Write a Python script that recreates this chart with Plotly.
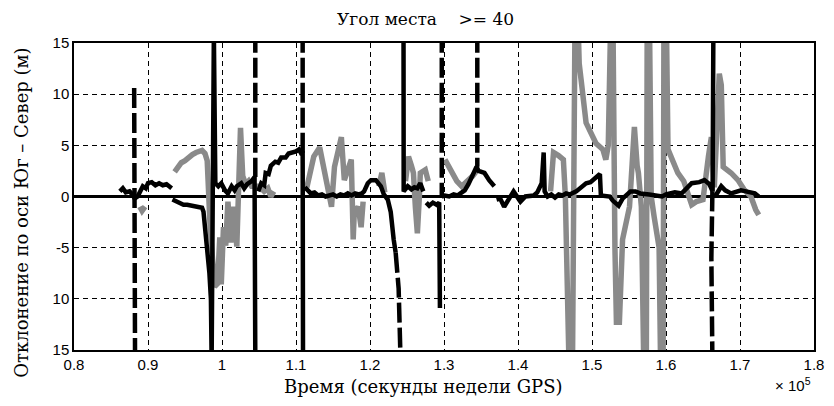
import plotly.graph_objects as go

# ---- data (time in units of 1e5 s, deviation in metres) ----
grey_x = [0.889, 0.892, 0.896, None,
          0.936, 0.940, 0.945, 0.950, 0.955, 0.960, 0.965, 0.970, 0.973, 0.977, 0.980, 0.984, 0.990, 0.994, 0.997,
          0.999, 1.002, 1.005, 1.008, 1.012, 1.016, 1.020, 1.022, 1.025, 1.028, 1.032, 1.036, 1.040, 1.050, 1.057,
          1.062, 1.066, 1.070, None,
          1.1147, 1.124, 1.132, 1.1387, 1.148, 1.152, 1.1613, 1.1653, 1.1707, 1.1747, 1.1773, 1.1787, 1.184, 1.188,
          1.1907, None,
          1.212, 1.216, 1.220, None,
          1.248, 1.252, 1.256, 1.2587, 1.2613, 1.264, 1.2667, 1.268, 1.2747, 1.2787, None,
          1.3013, 1.3093, 1.3173, 1.324, 1.332, 1.3387, 1.3453, None,
          1.444, 1.448, 1.4547, 1.4613, 1.464, 1.4667, 1.470, 1.4733, 1.4773, 1.480, 1.4827, 1.4853, 1.492, 1.5053,
          1.5147, 1.5187, 1.522, 1.526, 1.528, 1.531, 1.533, 1.537, 1.5413, 1.5507, 1.554, 1.5573, 1.561, 1.5627,
          1.5667, 1.5707, 1.5733, 1.5747, 1.5773, 1.580, 1.584, 1.5907, 1.5933, 1.596, 1.5973, 1.600, 1.6027, 1.6093,
          1.616, 1.624, 1.630, 1.6347, 1.641, 1.650, 1.6573, 1.6613, 1.6653, 1.6693, 1.672, 1.6747, 1.6773, 1.688,
          1.6973, 1.7053, 1.7147, 1.7213, 1.7253]
grey_y = [-1.0, -1.4, -1.0, None,
          2.4, 2.9, 3.3, 3.5, 3.9, 4.1, 4.3, 4.4, 4.5, 4.2, 3.5, -3.0, -8.8, -8.5, -4.0,
          -8.6, -3.0, -4.8, -0.5, -4.5, -1.0, -4.9, 1.0, 6.7, 2.0, 1.2, 1.5, 1.0, 1.0, 0.5,
          0.8, 0.0, 0.5, None,
          0.9, 3.9, 4.8, 2.3, -1.0, 2.9, 5.8, 1.6, 3.0, 3.6, -4.2, -1.6, -1.0, -3.0,
          -0.5, None,
          1.0, 2.3, 0.4, None,
          1.5, 3.9, 3.0, 2.3, -1.0, -3.6, 0.0, 2.3, 2.6, 1.5, None,
          3.6, 2.5, 1.5, 1.0, 1.5, 2.0, 2.6, None,
          0.5, 4.3, 4.0, 3.6, 0.0, -8.0, -20, -20, 20, 20, 13.0, 11.4, 7.2, 5.2,
          4.6, 3.6, 5.0, 20, 20, -5.0, -12.3, -12.3, -4.2, -1.0, 3.0, 6.8, 3.0, 2.3,
          -1.0, -20, -20, 20, 20, 0.0, -2.0, -5.0, -20, -20, 20, 20, 4.6, 3.5,
          2.3, 1.5, 0.0, -0.8, -0.5, -0.3, 3.9, 5.8, 0.9, 8.0, 12.0, 10.9, 2.9, 2.3,
          1.6, 0.7, 0.0, -1.3, -1.8]

black_x = [0.862, 0.866, 0.870, 0.875, 0.879, 0.882, 0.886, 0.889, 0.893, 0.897, 0.900, 0.905, 0.910, 0.915, 0.920,
           0.925, 0.930, 0.932, None,
           0.933, 0.938, 0.943, 0.948, 0.953, 0.958, 0.963, 0.968, 0.973, 0.975, 0.977, 0.979, 0.981, 0.983, 0.985,
           0.986, 0.989, 0.991, 0.995, 0.999, 1.004, 1.008, 1.013, 1.017, 1.020, 1.026, 1.030, 1.034, 1.040, 1.044,
           1.045, None,
           1.049, 1.053, 1.057, 1.059, 1.063, 1.066, 1.072, 1.076, 1.080, 1.086, 1.090, 1.095, 1.100, 1.104, 1.107,
           1.109, 1.1095, None,
           1.112, 1.116, 1.120, 1.125, 1.130, 1.135, 1.140, 1.145, 1.150, 1.155, 1.160, 1.165, 1.170, 1.175, 1.180,
           1.185, 1.189, 1.192, 1.197, 1.2013, 1.208, 1.2147, 1.2187, 1.224, 1.228, 1.232, 1.2347, None,
           1.2453, 1.2455, 1.251, 1.256, 1.260, 1.264, 1.268, 1.272, None,
           1.276, 1.280, 1.285, 1.290, 1.2935, 1.2945, None,
           1.297, 1.301, 1.307, 1.313, 1.318, 1.322, 1.328, 1.333, 1.338, 1.344, 1.3467, 1.3547, 1.361, 1.368, None,
           1.371, 1.376, 1.3813, 1.388, 1.394, 1.4033, 1.410, 1.4213, 1.426, 1.432, 1.4347, 1.436, 1.440, 1.445,
           1.450, 1.455, 1.460, 1.465, 1.470, 1.4787, 1.485, 1.492, 1.498, 1.5053, 1.5107, 1.512, 1.518, 1.524,
           1.528, 1.532, 1.536, 1.5413, 1.546, 1.552, 1.5587, 1.565, 1.5773, 1.585, 1.5947, 1.600, 1.606, 1.612,
           1.6213, 1.628, 1.6347, 1.645, 1.652, 1.6587, 1.6613, 1.663, 1.664, None,
           1.665, 1.668, 1.6747, 1.680, 1.688, 1.695, 1.7013, 1.708, 1.7147, 1.720, 1.7253]
black_y = [0.5, 0.8, 0.4, 0.5, 0.2, -0.2, 0.0, 0.4, 1.0, 0.8, 1.3, 1.4, 1.1, 1.3, 1.1,
           1.2, 1.0, 0.8, None,
           -0.3, -0.5, -0.6, -0.8, -0.8, -0.9, -1.0, -1.0, -1.1, -1.5, -3.0, -4.5, -5.5, -7.5, -10.0,
           -16, 16, 1.3, 1.0, 1.3, 0.6, 0.3, 1.0, 0.6, 1.0, 1.3, 0.8, 1.2, 1.5, 1.9,
           -16, None,
           0.5, 1.3, 1.1, 2.3, 2.2, 3.0, 3.4, 3.3, 3.8, 3.8, 4.2, 4.3, 4.4, 4.6, 4.2,
           4.2, -16, None,
           0.9, 0.6, 0.3, 0.4, 0.1, 0.2, 0.0, 0.1, 0.2, 0.0, 0.2, 0.1, 0.3, 0.1, 0.3,
           0.2, 0.3, 0.5, 1.3, 1.6, 1.6, 1.0, 0.2, -0.3, -1.5, -4.2, -5.5, None,
           16, 0.5, 1.0, 0.7, 0.9, 0.8, 1.3, 0.5, None,
           -0.6, -0.9, -0.6, -0.8, -0.6, -10.9, None,
           0.0, 0.1, 0.0, 0.2, 0.1, 0.3, 0.6, 1.2, 1.9, 2.9, 2.5, 2.3, 1.6, 1.0, None,
           -0.3, -0.2, -1.0, -0.2, 0.5, -0.5, 0.0, 0.1, 0.4, 1.3, 4.3, 0.5, 0.0, 0.2,
           -0.1, 0.2, 0.1, 0.3, 0.2, 0.5, 0.9, 1.3, 1.4, 1.8, 2.2, 0.1, 0.1, 0.0,
           -0.4, -0.6, -0.9, -0.2, 0.1, 0.5, 0.5, 0.3, 0.2, 0.1, 0.0, 0.2, 0.3, 0.4,
           0.3, 0.8, 1.3, 1.4, 1.6, 1.2, 0.9, 0.5, 16, None,
           0.0, 0.2, 1.0, 0.6, 0.3, 0.5, 0.6, 0.5, 0.4, 0.3, 0.0]

dashed_x = [0.8813, 0.8825, None, 1.045, 1.045, None, 1.109, 1.109, None,
            1.2347, 1.2387, 1.2413, None, 1.297, 1.297, None, 1.345, 1.345, None,
            1.6627, 1.6613, 1.6627]
dashed_y = [10.6, -16, None, 16, 1.9, None, 16, 4.2, None,
            -5.5, -9.0, -16, None, 16, 0.0, None, 16, 2.9, None,
            0.5, -6.0, -16]

x_ticks = [0.8, 0.9, 1.0, 1.1, 1.2, 1.3, 1.4, 1.5, 1.6, 1.7, 1.8]
x_ticktext = ["0.8", "0.9", "1", "1.1", "1.2", "1.3", "1.4", "1.5", "1.6", "1.7", "1.8"]
y_ticks = [15, 10, 5, 0, -5, -10, -15]
y_ticktext = ["15", "10", "5", "0", "-5", "10", "15"]

title_text = "Угол места\u00a0\u00a0\u00a0\u00a0>= 40"
x_title = "Время (секунды недели GPS)"
y_title = "Отклонение по оси Юг – Север (м)"

fig = go.Figure()
fig.add_trace(go.Scatter(x=grey_x, y=grey_y, mode="lines",
                         line=dict(color="#8a8a8a", width=5.5), connectgaps=False, showlegend=False))
fig.add_trace(go.Scatter(x=black_x, y=black_y, mode="lines",
                         line=dict(color="black", width=4.5), connectgaps=False, showlegend=False))
fig.add_trace(go.Scatter(x=dashed_x, y=dashed_y, mode="lines",
                         line=dict(color="black", width=4.5, dash="20px,5px"), connectgaps=False,
                         showlegend=False))

serif = "DejaVu Serif"
sans = "Liberation Sans"

fig.update_layout(
    width=834, height=406,
    margin=dict(l=74, r=10, t=43, b=56),
    paper_bgcolor="white", plot_bgcolor="white",
    showlegend=False,
    xaxis=dict(range=[0.8, 1.8], tickvals=x_ticks, ticktext=x_ticktext,
               showgrid=True, gridcolor="black", gridwidth=1, griddash="5px,4px",
               showline=True, linecolor="black", linewidth=1.5, mirror=True,
               zeroline=False, ticks="", tickfont=dict(family=sans, size=15, color="black")),
    yaxis=dict(range=[-15, 15], tickvals=y_ticks, ticktext=y_ticktext,
               showgrid=True, gridcolor="black", gridwidth=1, griddash="5px,4px",
               showline=True, linecolor="black", linewidth=1.5, mirror=True,
               zeroline=True, zerolinecolor="black", zerolinewidth=2.5,
               ticks="", tickfont=dict(family=sans, size=15, color="black")),
    annotations=[
        dict(text=title_text, xref="paper", yref="paper", x=(430 - 74) / 750, y=(350 - 19) / 307,
             xanchor="center", yanchor="middle", showarrow=False,
             font=dict(family=serif, size=17, color="black")),
        dict(text=x_title, xref="paper", yref="paper", x=(428 - 74) / 750, y=(350 - 386) / 307,
             xanchor="center", yanchor="middle", showarrow=False,
             font=dict(family=serif, size=18, color="black")),
        dict(text=y_title, xref="paper", yref="paper", x=(20 - 74) / 750, y=(350 - 213) / 307,
             xanchor="center", yanchor="middle", showarrow=False, textangle=-90,
             font=dict(family=serif, size=18, color="black")),
        dict(text="× 10<sup>5</sup>", xref="paper", yref="paper", x=(803 - 74) / 750, y=(350 - 384) / 307,
             xanchor="center", yanchor="middle", showarrow=False,
             font=dict(family=sans, size=15, color="black")),
    ],
)

fig.write_html("out.html")
